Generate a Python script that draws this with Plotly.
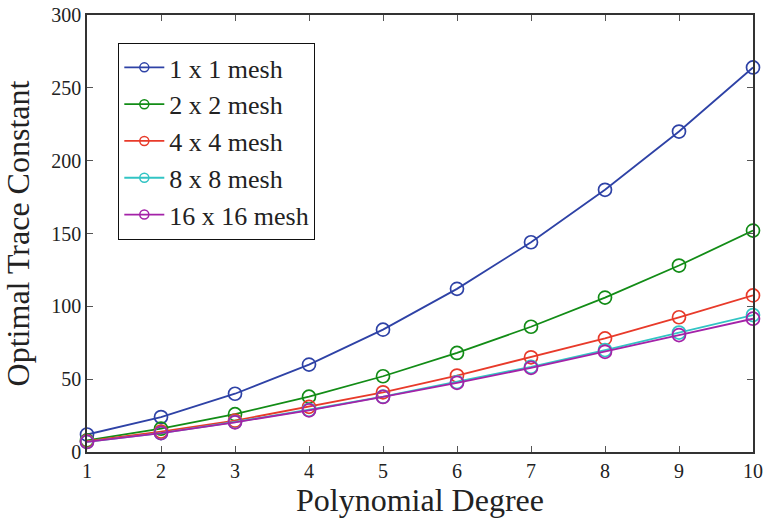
import plotly.graph_objects as go

degree = [1, 2, 3, 4, 5, 6, 7, 8, 9, 10]
mesh_1 = [12, 24, 40, 60, 84, 112, 144, 180, 220, 264]
mesh_2 = [8, 16, 26, 38, 52, 68, 86, 106, 128, 152]
mesh_4 = [7.5, 14, 21.5, 31, 41, 52.5, 65, 78, 92.5, 107.5]
mesh_8 = [7, 13, 20.6, 29, 38, 48, 58.5, 70, 82, 94]
mesh_16 = [6.9, 13, 20.4, 28.6, 37.8, 47.5, 57.8, 68.8, 80.3, 91.5]
names = ["1 x 1 mesh", "2 x 2 mesh", "4 x 4 mesh", "8 x 8 mesh", "16 x 16 mesh"]
colors = ["#2e42a6", "#128c16", "#e83a2a", "#32c4c4", "#a422a8"]
series = [mesh_1, mesh_2, mesh_4, mesh_8, mesh_16]

SERIF = "Liberation Serif, Times New Roman, serif"

fig = go.Figure()
for name, color, ys in zip(names, colors, series):
    fig.add_trace(go.Scatter(
        x=degree, y=ys, name=name, mode="lines+markers", showlegend=False,
        line=dict(color=color, width=1.8),
        marker=dict(symbol="circle-open", size=13, color=color, line=dict(width=1.7, color=color)),
        cliponaxis=False,
    ))
# legend entries (smaller markers, as in the reference legend)
for name, color in zip(names, colors):
    fig.add_trace(go.Scatter(
        x=[None], y=[None], name=name, mode="lines+markers", showlegend=True,
        line=dict(color=color, width=1.8),
        marker=dict(symbol="circle-open", size=9, color=color, line=dict(width=1.5, color=color)),
    ))

axis_common = dict(
    showline=True, linecolor="#333333", linewidth=1.5, mirror="ticks",
    ticks="inside", ticklen=6, tickcolor="#555555", tickwidth=1,
    showgrid=False, zeroline=False, automargin=False,
    tickfont=dict(family=SERIF, size=20, color="#222222"),
)

fig.update_layout(
    template="none",
    width=764, height=518,
    margin=dict(l=87, r=11, t=15, b=66),
    paper_bgcolor="white", plot_bgcolor="white",
    font=dict(family=SERIF, color="#222222"),
    xaxis=dict(range=[1, 10], dtick=1, title=dict(text="Polynomial Degree", font=dict(family=SERIF, size=32), standoff=10), **axis_common),
    yaxis=dict(range=[0, 300], dtick=50, title=dict(text="Optimal Trace Constant", font=dict(family=SERIF, size=32), standoff=16), **axis_common),
    legend=dict(
        x=0.047, y=0.936, xanchor="left", yanchor="top",
        bgcolor="white", bordercolor="#111111", borderwidth=1,
        font=dict(family=SERIF, size=26, color="#222222"),
        itemwidth=40,
    ),
    showlegend=True,
)

fig.write_html("out.html")
